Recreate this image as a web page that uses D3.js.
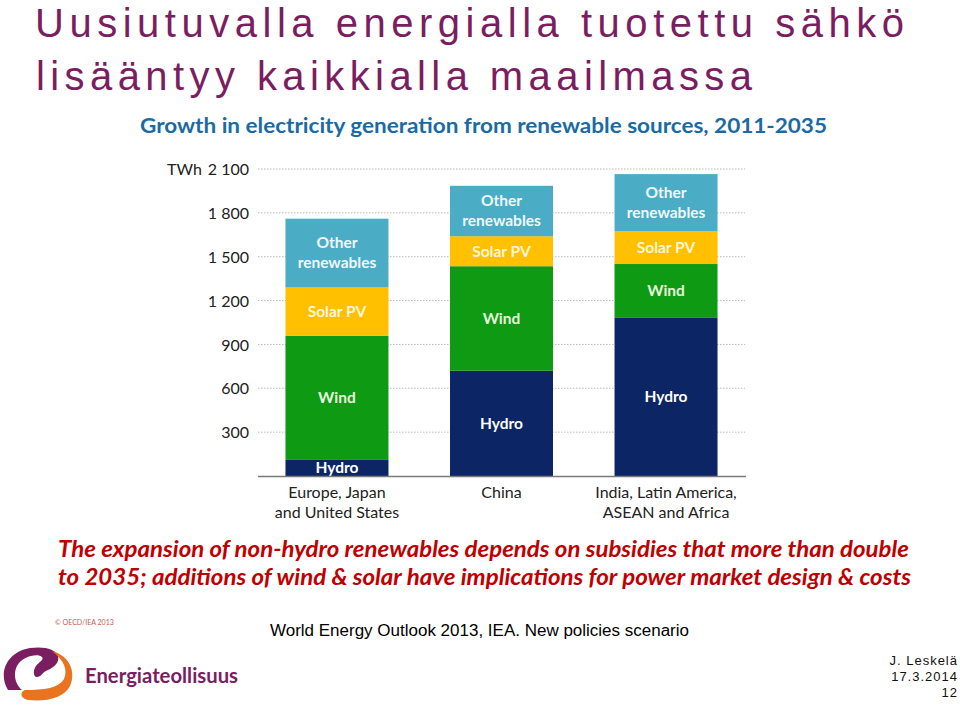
<!DOCTYPE html>
<html><head><meta charset="utf-8">
<script src="https://cdn.jsdelivr.net/npm/d3@7"></script>
<style>
html,body{margin:0;padding:0;background:#fff;}
svg{display:block;}
</style></head>
<body>
<script>
// ---- data ----
const categories = [["Europe, Japan","and United States"],["China"],["India, Latin America,","ASEAN and Africa"]];
const seriesNames = ["Hydro","Wind","Solar PV","Other renewables"];
const hydro = [110, 720, 1085];
const wind = [850, 715, 365];
const solar = [330, 205, 225];
const other = [470, 345, 390];
const tickValues = [300, 600, 900, 1200, 1500, 1800, 2100];
const tickLabels = ["300","600","900","1 200","1 500","1 800","2 100"];
const seriesColors = ["#0b2565","#0e9a12","#ffc000","#4bacc6"];
const labelColors = ["#ffffff","#e6f7dc","#fff6dc","#eef8fb"];

const W = 960, H = 706;
const svg = d3.select("body").append("svg").attr("width", W).attr("height", H);

// slide title
const title = svg.append("g").attr("fill","#7b1d61").attr("font-family","'Liberation Sans', Arial, sans-serif").attr("font-size",40);
title.append("text").attr("x",35).attr("y",37).attr("textLength",869).attr("lengthAdjust","spacing").text("Uusiutuvalla energialla tuotettu sähkö");
title.append("text").attr("x",36).attr("y",90).attr("textLength",716).attr("lengthAdjust","spacing").text("lisääntyy kaikkialla maailmassa");

// chart title
svg.append("text").attr("x",140).attr("y",133).attr("font-family","Lato, sans-serif").attr("font-weight","bold")
  .attr("font-size",21).attr("fill","#1a6aa3").attr("textLength",687).attr("lengthAdjust","spacingAndGlyphs")
  .text("Growth in electricity generation from renewable sources, 2011-2035");

// scales
const y = d3.scaleLinear().domain([0,2100]).range([476,169]);
const x = d3.scaleBand().domain(d3.range(categories.length)).range([258,745]).paddingInner(0.374).paddingOuter(0.167);

// gridlines
svg.append("g").selectAll("line").data(tickValues).join("line")
  .attr("x1",258).attr("x2",745).attr("y1",d=>y(d)).attr("y2",d=>y(d))
  .attr("stroke","#b8b8b8").attr("stroke-width",1).attr("stroke-dasharray","1.5,1.5");

// y axis labels
const yAxis = d3.axisLeft(y).tickValues(tickValues).tickFormat((d,i)=>tickLabels[i]).tickSize(0).tickPadding(0);
const ya = svg.append("g").attr("transform","translate(249,0)").call(yAxis);
ya.select(".domain").remove();
ya.selectAll("text").attr("font-family","Lato, sans-serif").attr("font-size",16).attr("fill","#222").attr("dy","0.35em");
svg.append("text").attr("x",167).attr("y",y(2100)).attr("dy","0.35em").attr("font-family","Lato, sans-serif").attr("font-size",16).attr("fill","#222").text("TWh");

// stacked bars
const rows = categories.map((c,i)=>({i, Hydro:hydro[i], Wind:wind[i], "Solar PV":solar[i], "Other renewables":other[i]}));
const stack = d3.stack().keys(seriesNames)(rows);
const gBars = svg.append("g");
stack.forEach((layer,k)=>{
  gBars.append("g").attr("fill",seriesColors[k]).selectAll("rect").data(layer).join("rect")
    .attr("x",d=>x(d.data.i)).attr("width",x.bandwidth())
    .attr("y",d=>y(d[1])).attr("height",d=>y(d[0])-y(d[1]));
});
// bar labels
stack.forEach((layer,k)=>{
  const lines = seriesNames[k]==="Other renewables" ? ["Other","renewables"] : [seriesNames[k]];
  layer.forEach(d=>{
    const cx = x(d.data.i)+x.bandwidth()/2;
    const cy = (y(d[0])+y(d[1]))/2;
    const t = gBars.append("text").attr("x",cx).attr("text-anchor","middle")
      .attr("font-family","Lato, sans-serif").attr("font-weight","bold").attr("font-size",15.5).attr("fill",labelColors[k]);
    lines.forEach((ln,j)=>{
      t.append("tspan").attr("x",cx).attr("y",cy+(j-(lines.length-1)/2)*20).attr("dy","0.35em").text(ln);
    });
  });
});

// baseline
svg.append("line").attr("x1",258).attr("x2",746).attr("y1",y(0)+0.5).attr("y2",y(0)+0.5).attr("stroke","#7a7a7a").attr("stroke-width",1.5);

// category labels
categories.forEach((lines,i)=>{
  const cx = x(i)+x.bandwidth()/2;
  const t = svg.append("text").attr("text-anchor","middle").attr("font-family","Lato, sans-serif").attr("font-size",16).attr("fill","#222");
  lines.forEach((ln,j)=>t.append("tspan").attr("x",cx).attr("y",498+j*20).text(ln));
});

// red note
const note = svg.append("g").attr("fill","#c00000").attr("font-family","Lato, sans-serif").attr("font-weight","bold").attr("font-style","italic").attr("font-size",22);
note.append("text").attr("x",58).attr("y",557).attr("textLength",851).attr("lengthAdjust","spacingAndGlyphs").text("The expansion of non-hydro renewables depends on subsidies that more than double");
note.append("text").attr("x",58).attr("y",585).attr("textLength",853).attr("lengthAdjust","spacingAndGlyphs").text("to 2035; additions of wind & solar have implications for power market design & costs");

// copyright
svg.append("text").attr("x",55).attr("y",625).attr("font-family","Lato, sans-serif").attr("font-size",7).attr("fill","#c0604f").text("© OECD/IEA 2013");

// source
svg.append("text").attr("x",270).attr("y",636).attr("font-family","'Liberation Sans', Arial, sans-serif").attr("font-size",16).attr("fill","#000")
  .attr("textLength",419).attr("lengthAdjust","spacingAndGlyphs").text("World Energy Outlook 2013, IEA. New policies scenario");

// logo
const logo = svg.append("g");
logo.append("path").attr("fill","#7b1d61")
  .attr("d","M8,690 C-2,674 6,652 30,648 C44,646 56,649 58,656 C60,664 52,668 46,671 C42,673 41,677 37,677 C33,677 33,670 36,666 C40,661 44,660 42,657 C38,653 22,656 17,666 C13,674 15,684 22,690 Z");
logo.append("path").attr("fill","#e8741f")
  .attr("d","M52,651 C70,656 76,672 70,686 C64,698 46,702 28,700 C21,699 19,692 25,690 C44,690 59,688 64,679 C68,670 64,660 52,651 Z");
svg.append("text").attr("x",85).attr("y",683).attr("font-family","Lato, sans-serif").attr("font-weight","bold").attr("font-size",21).attr("fill","#7b1d61")
  .attr("textLength",153).attr("lengthAdjust","spacingAndGlyphs").text("Energiateollisuus");

// author
const au = svg.append("g").attr("font-family","'Liberation Sans', Arial, sans-serif").attr("font-size",13).attr("fill","#111").attr("text-anchor","end").attr("letter-spacing",1);
au.append("text").attr("x",958).attr("y",665).text("J. Leskelä");
au.append("text").attr("x",958).attr("y",681).text("17.3.2014");
au.append("text").attr("x",958).attr("y",697).text("12");
</script>
</body></html>
